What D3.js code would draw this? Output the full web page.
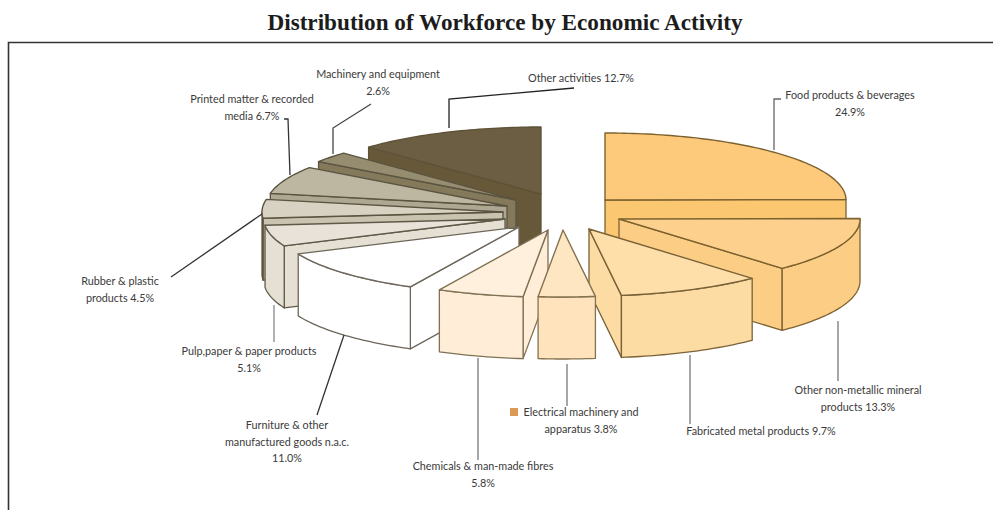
<!DOCTYPE html>
<html>
<head>
<meta charset="utf-8">
<title>Distribution of Workforce by Economic Activity</title>
<script src="https://cdn.jsdelivr.net/npm/d3@7/dist/d3.min.js"></script>
<style>
  html, body { margin: 0; padding: 0; background: #fff; }
  svg { display: block; }
</style>
</head>
<body>
<svg id="chart" width="993" height="510"></svg>
<script>
// Workforce shares, clockwise from twelve o'clock
const activities = [
  "Food products & beverages", "Other non-metallic mineral products",
  "Fabricated metal products", "Electrical machinery and apparatus",
  "Chemicals & man-made fibres", "Furniture & other manufactured goods n.a.c.",
  "Pulp,paper & paper products", "Rubber & plastic products",
  "Printed matter & recorded media", "Machinery and equipment", "Other activities"
];
const shares = [24.9, 13.3, 9.7, 3.8, 5.8, 11.0, 5.1, 4.5, 6.7, 2.6, 12.7];

// Slice styling, same order as the shares
const topColors  = ["#fdca7b", "#fdd18d", "#fedfa9", "#fee6c3", "#fff0dd", "#ffffff", "#e8e2d9", "#d7d2c2", "#bdb6a1", "#968c70", "#6b5e42"];
const sideColors = ["#fcc771", "#fccd84", "#fddca3", "#fee3bc", "#ffedd7", "#ffffff", "#e5dfd4", "#c9c3b0", "#aea792", "#85795c", "#665839"];
const edgeColors = ["#7d6230", "#7d6230", "#7a6238", "#85724f", "#7f7255", "#6d675a", "#5f5a48", "#5a5440", "#5a5440", "#5a5440", "#5e5238"];

// Where each exploded slice keeps its apex
const apexX = [605, 619, 589, 563, 548, 519, 505, 503, 507, 516, 541];
const apexY = [200, 219, 229, 230, 230, 227, 219, 212, 206, 200, 194];

// Painter's order: far slices first
const drawOrder = [10, 9, 8, 7, 6, 5, 0, 1, 2, 4, 3];

const radiusX = 241, radiusY = 67, depth = 62;

const svg = d3.select("#chart");
const fontStack = "Lato, 'Open Sans', sans-serif";

svg.append("path")
  .attr("d", "M8.5,510V42.5H993")
  .attr("fill", "none").attr("stroke", "#333").attr("stroke-width", 1.6);

svg.append("text")
  .attr("x", 505).attr("y", 30)
  .attr("text-anchor", "middle")
  .attr("font-family", "'Liberation Serif', serif")
  .attr("font-weight", "bold").attr("font-size", 23.2)
  .attr("fill", "#1c1c1c")
  .text("Distribution of Workforce by Economic Activity");

const slices = d3.pie().sort(null).startAngle(0).endAngle(2 * Math.PI)(shares);

const line = d3.line();
const rimX = d3.scaleLinear().domain([-1, 1]).range([-radiusX, radiusX]);
const rimY = d3.scaleLinear().domain([-1, 1]).range([radiusY, -radiusY]);
const rim = (i, a, drop = 0) => [
  apexX[i] + rimX(Math.sin(a)),
  apexY[i] + rimY(Math.cos(a)) + drop
];
const arcAngles = (a0, a1) => {
  const n = Math.max(2, Math.ceil((a1 - a0) / 0.02));
  return d3.range(n + 1).map(k => a0 + (a1 - a0) * k / n);
};

const pieGroup = svg.append("g");

drawOrder.forEach(i => {
  const { startAngle: a0, endAngle: a1 } = slices[i];
  const g = pieGroup.append("g").attr("class", "slice");
  const apex = [apexX[i], apexY[i]];
  const apexLow = [apexX[i], apexY[i] + depth];
  const face = pts => g.append("path")
    .attr("d", line(pts) + "Z")
    .attr("fill", sideColors[i]).attr("stroke", edgeColors[i])
    .attr("stroke-width", 1.3).attr("stroke-linejoin", "round");

  // Radial wall on the trailing edge, seen for slices on the left half
  if (a0 > Math.PI && a0 < 2 * Math.PI) {
    face([apex, rim(i, a0), rim(i, a0, depth), apexLow]);
  }
  // Radial wall on the leading edge, seen for slices on the right half
  if (a1 > 0 && a1 < Math.PI) {
    face([apex, rim(i, a1), rim(i, a1, depth), apexLow]);
  }
  // Curved outer wall, only the part facing the viewer
  const wall0 = Math.max(a0, Math.PI / 2), wall1 = Math.min(a1, 3 * Math.PI / 2);
  if (wall1 > wall0) {
    const angles = arcAngles(wall0, wall1);
    face(angles.map(a => rim(i, a)).concat(angles.slice().reverse().map(a => rim(i, a, depth))));
  }
  // Top surface
  g.append("path")
    .attr("d", line([apex].concat(arcAngles(a0, a1).map(a => rim(i, a)))) + "Z")
    .attr("fill", topColors[i]).attr("stroke", edgeColors[i])
    .attr("stroke-width", 1.4).attr("stroke-linejoin", "round");
});

// Callout text and leader routes
const labelLines = [
  ["Food products & beverages", "24.9%"],
  ["Other non-metallic mineral", "products 13.3%"],
  ["Fabricated metal products 9.7%"],
  ["Electrical machinery and", "apparatus 3.8%"],
  ["Chemicals & man-made fibres", "5.8%"],
  ["Furniture & other", "manufactured goods n.a.c.", "11.0%"],
  ["Pulp,paper & paper products", "5.1%"],
  ["Rubber & plastic", "products 4.5%"],
  ["Printed matter & recorded", "media 6.7%"],
  ["Machinery and equipment", "2.6%"],
  ["Other activities 12.7%"]
];
const labelX = [850, 858, 761, 581, 483, 287, 249, 120, 252, 378, 581];
const labelY = [99, 394, 435, 416, 470, 429, 355, 285, 103, 78, 82];
const lineGap = 16.5;

const leaders = [
  [[774, 150], [774, 99], [781, 99]],
  [[838, 321], [838, 381]],
  [[690, 355], [690, 424]],
  [[567, 364], [567, 406]],
  [[478, 358], [478, 460]],
  [[344, 335], [317, 415]],
  [[274, 305], [274, 342]],
  [[262, 214], [171, 277]],
  [[290, 175], [288, 119], [284, 119]],
  [[333, 154], [333, 128], [371, 104]],
  [[449, 128], [449, 99], [574, 88]]
];
const leaderColors = ["#666", "#777", "#777", "#777", "#777", "#333", "#888", "#333", "#333", "#444", "#222"];

leaders.forEach((pts, i) => {
  svg.append("path")
    .attr("d", line(pts)).attr("fill", "none")
    .attr("stroke", leaderColors[i]).attr("stroke-width", 1.3);
});

labelLines.forEach((rows, i) => {
  const t = svg.append("text")
    .attr("text-anchor", "middle")
    .attr("font-family", fontStack).attr("font-size", 10.8)
    .attr("fill", "#3a3a3a");
  rows.forEach((r, k) => {
    t.append("tspan").attr("x", labelX[i]).attr("y", labelY[i] + k * lineGap).text(r);
  });
});

// Small orange marker beside the electrical machinery label
svg.append("rect")
  .attr("x", 510).attr("y", 408).attr("width", 8).attr("height", 8)
  .attr("fill", "#dc9a55");
</script>
</body>
</html>
